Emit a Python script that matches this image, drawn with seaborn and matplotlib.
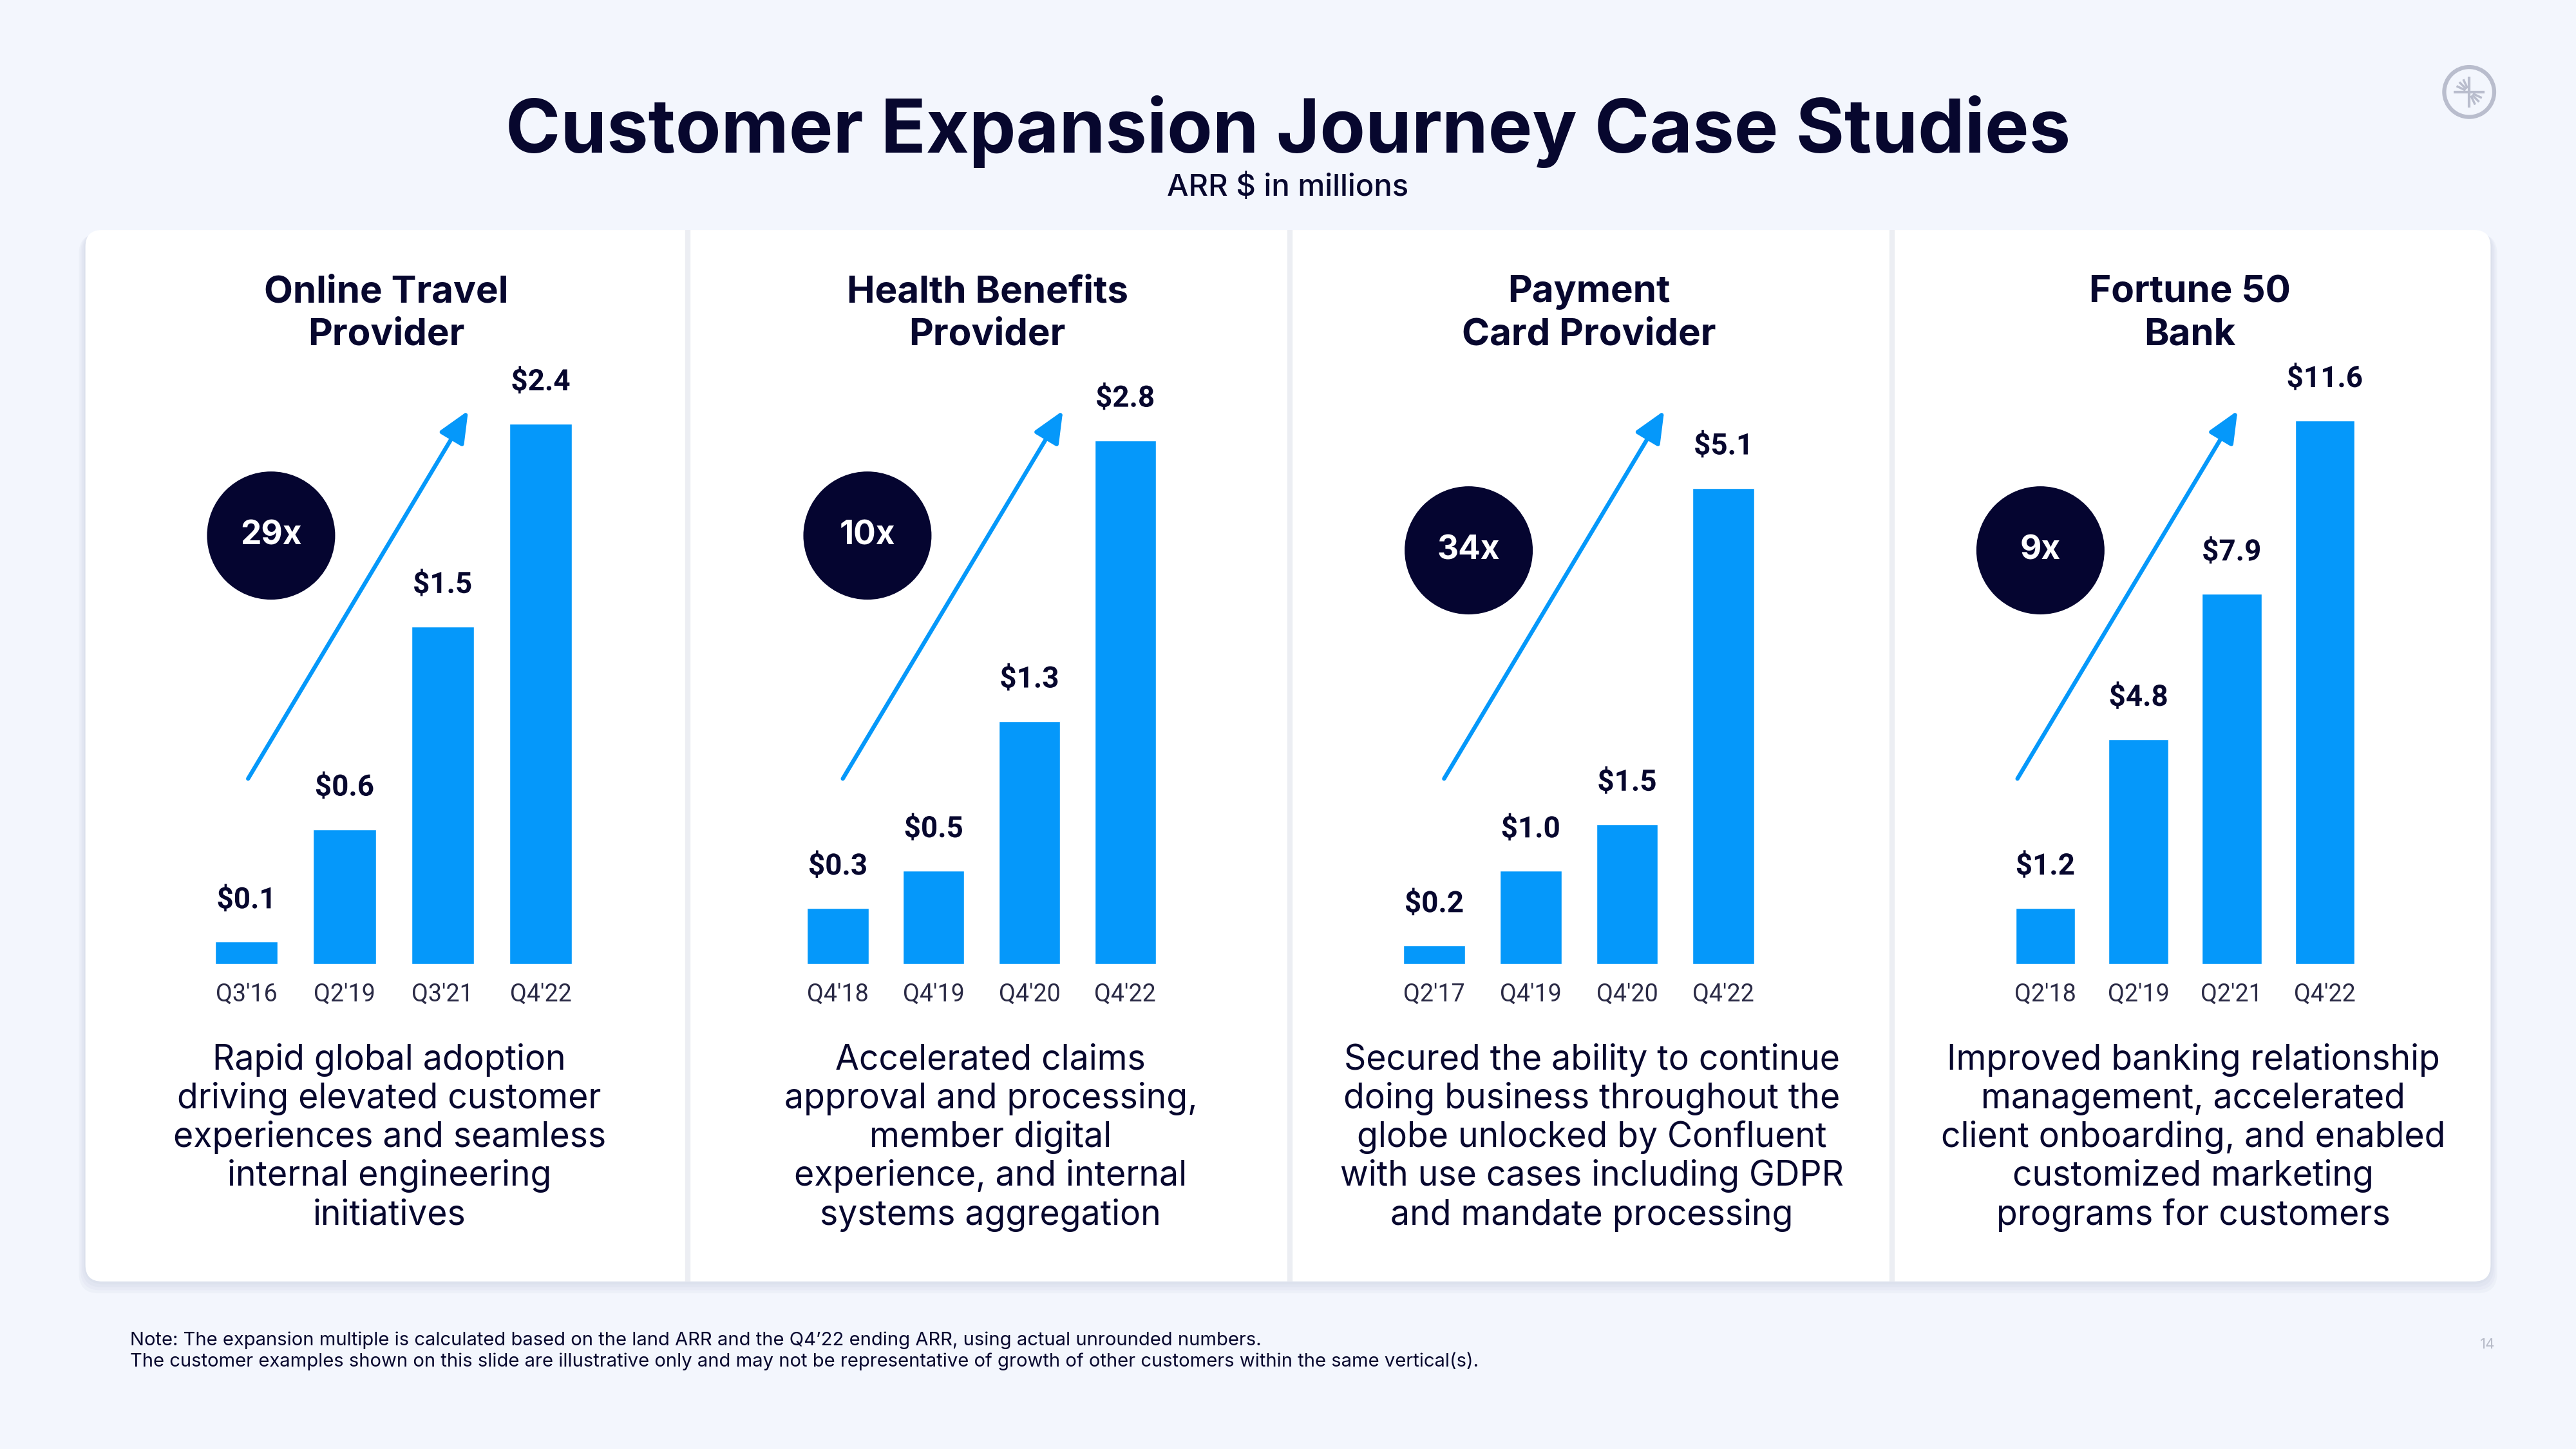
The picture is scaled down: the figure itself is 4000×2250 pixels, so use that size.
import numpy as np
import pandas as pd
import matplotlib
matplotlib.use("Agg")
import matplotlib.pyplot as plt
import seaborn as sns
from matplotlib.patches import FancyBboxPatch, Circle, FancyArrowPatch
import matplotlib.patheffects as pe

# ---------------- data ----------------
title = "Customer Expansion Journey Case Studies"
subtitle = "ARR $ in millions"
panel_titles = [["Online Travel", "Provider"], ["Health Benefits", "Provider"],
                ["Payment", "Card Provider"], ["Fortune 50", "Bank"]]
quarters_1 = ["Q3'16", "Q2'19", "Q3'21", "Q4'22"]
arr_1 = [0.1, 0.6, 1.5, 2.4]
quarters_2 = ["Q4'18", "Q4'19", "Q4'20", "Q4'22"]
arr_2 = [0.3, 0.5, 1.3, 2.8]
quarters_3 = ["Q2'17", "Q4'19", "Q4'20", "Q4'22"]
arr_3 = [0.2, 1.0, 1.5, 5.1]
quarters_4 = ["Q2'18", "Q2'19", "Q2'21", "Q4'22"]
arr_4 = [1.2, 4.8, 7.9, 11.6]
multiples = ["29x", "10x", "34x", "9x"]
descriptions = [
    ["Rapid global adoption", "driving elevated customer", "experiences and seamless",
     "internal engineering", "initiatives"],
    ["Accelerated claims", "approval and processing,", "member digital",
     "experience, and internal", "systems aggregation"],
    ["Secured the ability to continue", "doing business throughout the",
     "globe unlocked by Confluent", "with use cases including GDPR",
     "and mandate processing"],
    ["Improved banking relationship", "management, accelerated",
     "client onboarding, and enabled", "customized marketing",
     "programs for customers"],
]
footnote = ["Note: The expansion multiple is calculated based on the land ARR and the Q4\u201922 ending ARR, using actual unrounded numbers.",
            "The customer examples shown on this slide are illustrative only and may not be representative of growth of other customers within the same vertical(s)."]
page_number = "14"

quarters = [quarters_1, quarters_2, quarters_3, quarters_4]
arrs = [arr_1, arr_2, arr_3, arr_4]

# ---------------- style / layout ----------------
BLUE = "#0598FA"
NAVY = "#07072E"
BG = "#F3F6FD"
W, H = 1568, 882  # layout grid (reference preview pixels)

sns.set_theme(style="white")
plt.rcParams["font.family"] = ["Inter", "DejaVu Sans"]

fig = plt.figure(figsize=(40, 22.5), dpi=100)
fig.patch.set_facecolor(BG)

bg = fig.add_axes([0, 0, 1, 1], zorder=0)
bg.set_xlim(0, W)
bg.set_ylim(H, 0)
bg.axis("off")
bg.patch.set_alpha(0)

# card shadow + card
for k, a in enumerate([0.05, 0.05, 0.05, 0.06]):
    off = 2 + k * 2
    bg.add_patch(FancyBboxPatch((52 - off * 0.5, 140 + off * 0.3), 1464 + off, 640 + off * 0.6,
                                boxstyle="round,pad=0,rounding_size=12",
                                fc="#8A93B8", ec="none", alpha=a, zorder=0.5))
bg.add_patch(FancyBboxPatch((52, 140), 1464, 640, boxstyle="round,pad=0,rounding_size=10",
                            fc="white", ec="none", zorder=1))
for sx in [418.5, 785, 1151.5]:
    bg.plot([sx, sx], [140, 780], color="#ECEEF3", lw=6, zorder=1.2, solid_capstyle="butt")

# titles
bg.text(784, 93, title, ha="center", va="baseline", fontsize=83, fontweight="bold", color=NAVY, zorder=3)
bg.text(784, 119, subtitle, ha="center", va="baseline", fontsize=34, fontweight="medium", color=NAVY, zorder=3)

# logo
LOGO = "#B9BDCD"
bg.add_patch(Circle((1503, 56), 15.2, fc="none", ec=LOGO, lw=4.5, zorder=3))
for ang in [90, 180, 270, 0]:
    r = np.deg2rad(ang)
    bg.plot([1503, 1503 + 9.5 * np.cos(r)], [56, 56 - 9.5 * np.sin(r)], color=LOGO, lw=3, zorder=3,
            solid_capstyle="butt")
for ang in [115, 135, 155, -65, -45, -25]:
    r = np.deg2rad(ang)
    bg.plot([1503 + 2.5 * np.cos(r), 1503 + 8.5 * np.cos(r)], [56 - 2.5 * np.sin(r), 56 - 8.5 * np.sin(r)],
            color=LOGO, lw=2.5, zorder=3, solid_capstyle="butt")

# per-panel layout
bar_first = [150, 510, 873, 1245]
bar_step = [59.7, 58.3, 58.7, 56.7]
panel_cx = [235, 601, 967, 1333]
top_frac = [329 / 372, 319 / 372, 290 / 372, 331 / 372]
circle_c = [(165, 326), (528, 326), (894, 335), (1242, 335)]
arrow_start = [(151, 474), (513, 474), (879, 474), (1228, 474)]
ax_bottom, ax_top = 587, 215

for i in range(4):
    left = bar_first[i] - bar_step[i] / 2
    width = 4 * bar_step[i]
    ax = fig.add_axes([left / W, 1 - ax_bottom / H, width / W, (ax_bottom - ax_top) / H], zorder=2)
    ax.patch.set_alpha(0)
    df = pd.DataFrame({"quarter": quarters[i], "arr": arrs[i]})
    sns.barplot(data=df, x="quarter", y="arr", ax=ax, color=BLUE, saturation=1, width=0.64)
    ax.set_xlim(-0.5, 3.5)
    ax.set_ylim(0, max(arrs[i]) / top_frac[i])
    for s in ax.spines.values():
        s.set_visible(False)
    ax.set_yticks([])
    ax.set_xlabel("")
    ax.set_ylabel("")
    ax.tick_params(axis="x", length=0, pad=20, labelsize=27, labelcolor="#2A2A45")
    for t in ax.get_xticklabels():
        t.set_family(["Roboto", "DejaVu Sans"])
    ax.bar_label(ax.containers[0], labels=[f"${v:.1f}" for v in arrs[i]], padding=31,
                 fontsize=33, fontweight="bold", color=NAVY, family=["Roboto", "DejaVu Sans"],
                 path_effects=[pe.withStroke(linewidth=8, foreground="white")])

    # panel title
    bg.text(panel_cx[i], 184, panel_titles[i][0], ha="center", va="baseline", fontsize=42,
            fontweight="bold", color=NAVY, zorder=3)
    bg.text(panel_cx[i], 210, panel_titles[i][1], ha="center", va="baseline", fontsize=42,
            fontweight="bold", color=NAVY, zorder=3)

    # multiple circle
    cx, cy = circle_c[i]
    bg.add_patch(Circle((cx, cy), 39, fc="#050530", ec="none", zorder=3))
    bg.text(cx, cy, multiples[i], ha="center", va="center", fontsize=37, fontweight="bold",
            color="white", zorder=4)

    # arrow
    x0, y0 = arrow_start[i]
    bg.add_patch(FancyArrowPatch((x0, y0), (x0 + 134, y0 - 224), arrowstyle="-|>,head_length=0.5,head_width=0.22",
                                 mutation_scale=60, color=BLUE, lw=4.6, shrinkA=0, shrinkB=0, zorder=3))

    # description
    for j, line in enumerate(descriptions[i]):
        bg.text(panel_cx[i] + 2, 651 + j * 23.6, line, ha="center", va="baseline", fontsize=38.5,
                color=NAVY, zorder=3)

# footnote
bg.text(79, 819, footnote[0], ha="left", va="baseline", fontsize=21, color=NAVY, zorder=3)
bg.text(79, 832, footnote[1], ha="left", va="baseline", fontsize=21, color=NAVY, zorder=3)
bg.text(1514, 821, page_number, ha="center", va="baseline", fontsize=16, color="#B8BCC9", zorder=3)

fig.savefig("out.png", dpi=100, facecolor=BG)
